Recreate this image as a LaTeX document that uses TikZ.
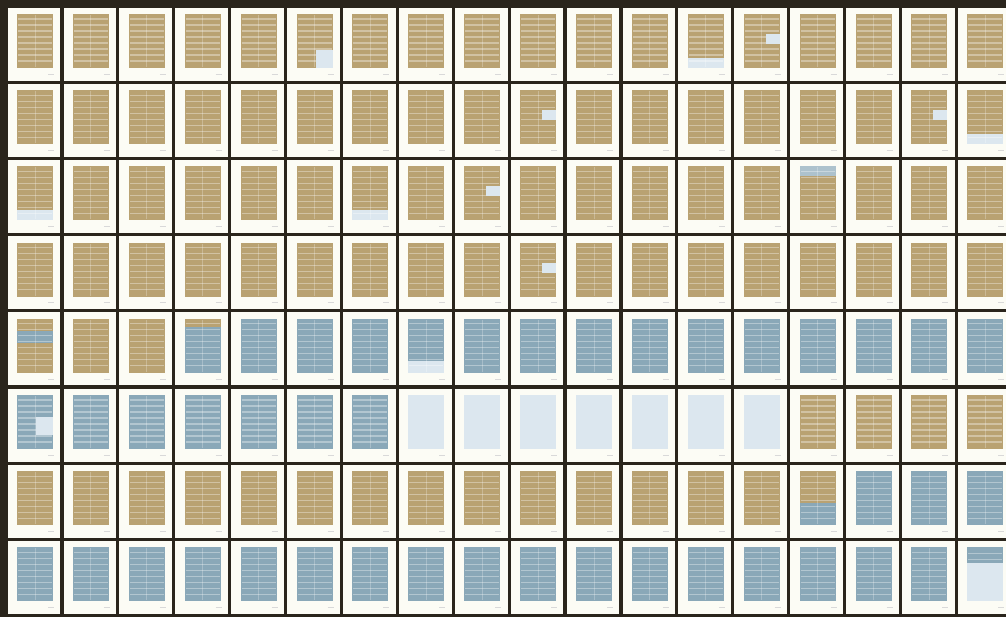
\documentclass[tikz,border=0pt]{standalone}
\definecolor{pframe}{HTML}{2A251C}
\definecolor{ppaper}{HTML}{FCFCF5}
\definecolor{ptan}{HTML}{B9A272}
\definecolor{pblue}{HTML}{8AA8B8}
\definecolor{plight}{HTML}{DCE7EF}
\newcommand\pgstripes{%
  \foreach \k in {0,...,7}{\draw[white,opacity=0.35,line width=1.3] (12,13+6*\k) -- (46,13+6*\k);}
  \draw[white,opacity=0.25,line width=1] (29,9) -- (29,61);}
\tikzset{
  blockfill/.style={fill=#1},
  pT/.pic={\fill[ptan] (11,8) rectangle (47,62); \pgstripes},
  pB/.pic={\fill[pblue] (11,8) rectangle (47,62); \pgstripes},
  pL/.pic={\fill[plight] (11,8) rectangle (47,62);},
  pTq/.pic={\fill[ptan] (11,8) rectangle (47,62); \pgstripes \fill[plight] (30,44) rectangle (47,62);},
  pTb/.pic={\fill[ptan] (11,8) rectangle (47,52); \fill[plight] (11,52) rectangle (47,62); \pgstripes},
  pTc/.pic={\fill[ptan] (11,8) rectangle (47,62); \pgstripes \fill[plight] (33,28) rectangle (47,38);},
  pTtop/.pic={\fill[ptan] (11,8) rectangle (47,62); \fill[pblue!70] (11,8) rectangle (47,18); \pgstripes},
  pM/.pic={\fill[ptan] (11,8) rectangle (47,62); \fill[pblue] (11,20) rectangle (47,32); \pgstripes},
  pX/.pic={\fill[pblue] (11,8) rectangle (47,62); \fill[ptan] (11,8) rectangle (47,16); \pgstripes},
  pY/.pic={\fill[ptan] (11,8) rectangle (47,62); \fill[pblue] (11,40) rectangle (47,62); \pgstripes},
  pBt/.pic={\fill[plight] (11,8) rectangle (47,62); \fill[pblue] (11,8) rectangle (47,24); \draw[white,opacity=0.35,line width=1.3] (12,14) -- (46,14) (12,20) -- (46,20);},
  pBl/.pic={\fill[pblue] (11,8) rectangle (47,50); \fill[plight] (11,50) rectangle (47,62); \pgstripes},
  pBc/.pic={\fill[pblue] (11,8) rectangle (47,62); \pgstripes \fill[plight] (30,30) rectangle (47,48);},
}
\begin{document}
\begin{tikzpicture}[x=1pt,y=-1pt]
\useasboundingbox (0,0) rectangle (1006,617);
\fill[pframe] (0,0) rectangle (1006,617);
\foreach \r in {0,...,7}{
  \foreach \c in {0,...,17}{
    \fill[ppaper] ({6+55.9*\c+1.6},{6+76.2*\r+1.6}) rectangle ({6+55.9*(\c+1)-1.6},{6+76.2*(\r+1)-1.6});
    \draw[gray!30,line width=0.6] ({6+55.9*\c+42},{6+76.2*\r+68}) -- ({6+55.9*\c+48},{6+76.2*\r+68});
  }
}
\foreach \row [count=\r from 0] in {
  {T,T,T,T,T,Tq,T,T,T,T,T,T,Tb,Tc,T,T,T,T},
  {T,T,T,T,T,T,T,T,T,Tc,T,T,T,T,T,T,Tc,Tb},
  {Tb,T,T,T,T,T,Tb,T,Tc,T,T,T,T,T,Ttop,T,T,T},
  {T,T,T,T,T,T,T,T,T,Tc,T,T,T,T,T,T,T,T},
  {M,T,T,X,B,B,B,Bl,B,B,B,B,B,B,B,B,B,B},
  {Bc,B,B,B,B,B,B,L,L,L,L,L,L,L,T,T,T,T},
  {T,T,T,T,T,T,T,T,T,T,T,T,T,T,Y,B,B,B},
  {B,B,B,B,B,B,B,B,B,B,B,B,B,B,B,B,B,Bt}}{
  \foreach \t [count=\c from 0] in \row {
    \path ({6+55.9*\c},{6+76.2*\r}) pic {p\t};
  }
}
\end{tikzpicture}
\end{document}
